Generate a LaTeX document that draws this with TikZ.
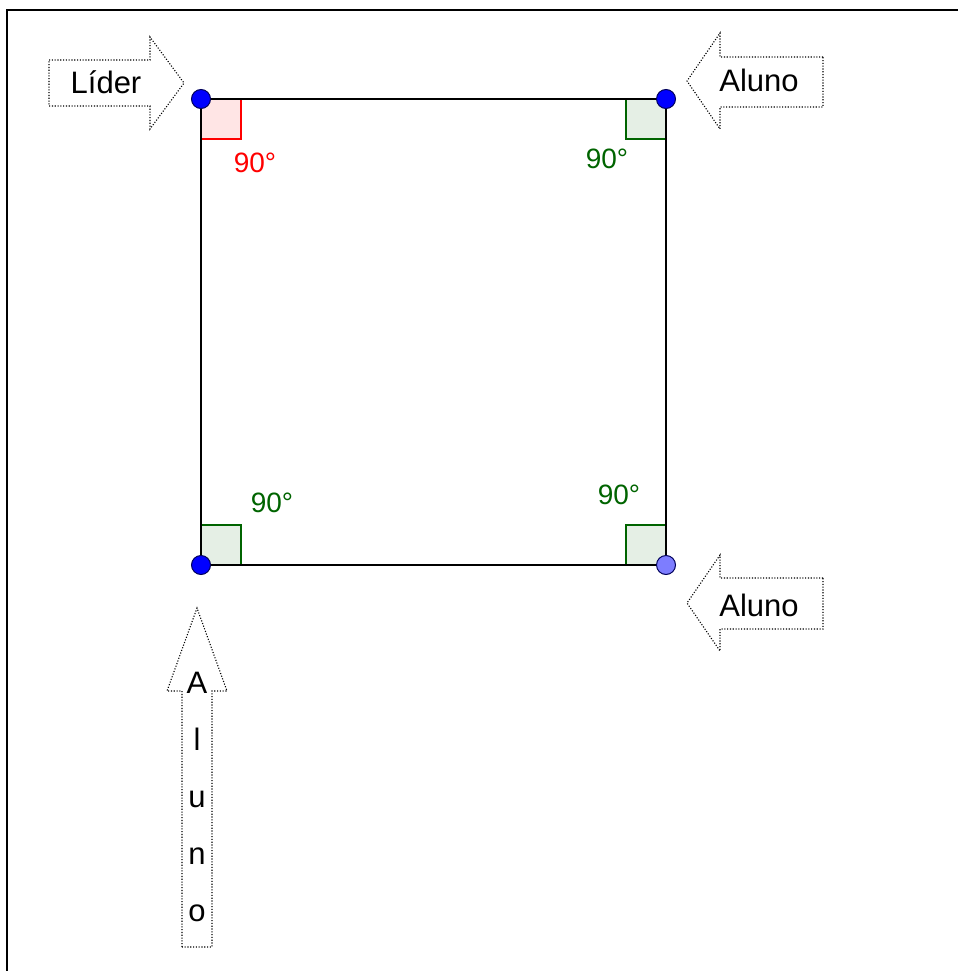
\documentclass[tikz,border=0pt]{standalone}
\usepackage{fontspec}
\setmainfont{Liberation Sans}
\definecolor{ptblue}{RGB}{0,0,255}
\definecolor{ptlight}{RGB}{125,125,255}
\definecolor{ptedge}{RGB}{0,0,90}
\definecolor{angred}{RGB}{255,0,0}
\definecolor{angredfill}{RGB}{255,229,229}
\definecolor{anggreen}{RGB}{0,100,0}
\definecolor{anggreenfill}{RGB}{229,239,229}
\begin{document}
\begin{tikzpicture}[x=1pt,y=-1pt,
  vertex/.style={circle,inner sep=0pt,minimum size=19pt,line width=1pt,draw=ptedge,fill=ptblue},
  side/.style={line width=1.6pt,draw=black},
  redmark/.style={line width=1.4pt,draw=angred,fill=angredfill},
  greenmark/.style={line width=1.4pt,draw=anggreen,fill=anggreenfill},
  redlbl/.style={text=angred,inner sep=0pt,font=\fontsize{28}{32}\selectfont},
  greenlbl/.style={text=anggreen,inner sep=0pt,font=\fontsize{28}{32}\selectfont},
  callout/.style={draw=black,line width=1.1pt,dash pattern=on 1.1pt off 1.7pt,fill=white},
  tag/.style={inner sep=0pt,font=\fontsize{31}{36}\selectfont},
]
\useasboundingbox (0,0) rectangle (958,971);

% frame lines (top and left)
\draw[line width=2pt] (7,971) -- (7,10.5) -- (958,10.5);

% square corners
\coordinate (A) at (201,99);
\coordinate (B) at (666,99);
\coordinate (C) at (201,565);
\coordinate (D) at (666,565);

% right-angle marks
\draw[redmark]   (A) rectangle ++(40,40);
\draw[greenmark] (B) rectangle ++(-40,40);
\draw[greenmark] (C) rectangle ++(40,-40);
\draw[greenmark] (D) rectangle ++(-40,-40);

% sides of the square
\draw[side] (A) -- (B) -- (D) -- (C) -- cycle;

% vertices
\node[vertex] (pA) at (A) {};
\node[vertex] (pB) at (B) {};
\node[vertex] (pC) at (C) {};
\node[vertex,fill=ptlight] (pD) at (D) {};

% angle labels
\node[redlbl]   (aA) at (255,163) {90°};
\node[greenlbl] (aB) at (607,159) {90°};
\node[greenlbl] (aC) at (272,503) {90°};
\node[greenlbl] (aD) at (619,495) {90°};

% dotted block arrows
\draw[callout] (49,60) -- (150,60) -- (150,37) -- (184,83) -- (150,129) -- (150,106) -- (49,106) -- cycle;
\draw[callout] (823,57) -- (720,57) -- (720,33) -- (687,81) -- (720,129) -- (720,107) -- (823,107) -- cycle;
\draw[callout] (823,578) -- (720,578) -- (720,555) -- (687,603) -- (720,651) -- (720,629) -- (823,629) -- cycle;
\draw[callout] (182,947) -- (182,691) -- (167,691) -- (197,608) -- (227,691) -- (212,691) -- (212,947) -- cycle;

% arrow captions
\node[tag,anchor=base] (lider) at (106,94) {Líder};
\node[tag,anchor=base] (aluno1) at (759,92) {Aluno};
\node[tag,anchor=base] (aluno2) at (759,616) {Aluno};
\node[tag,anchor=north,align=center,font=\fontsize{31}{57}\selectfont] (aluno3) at (197,672) {A\\l\\u\\n\\o};
\end{tikzpicture}
\end{document}
